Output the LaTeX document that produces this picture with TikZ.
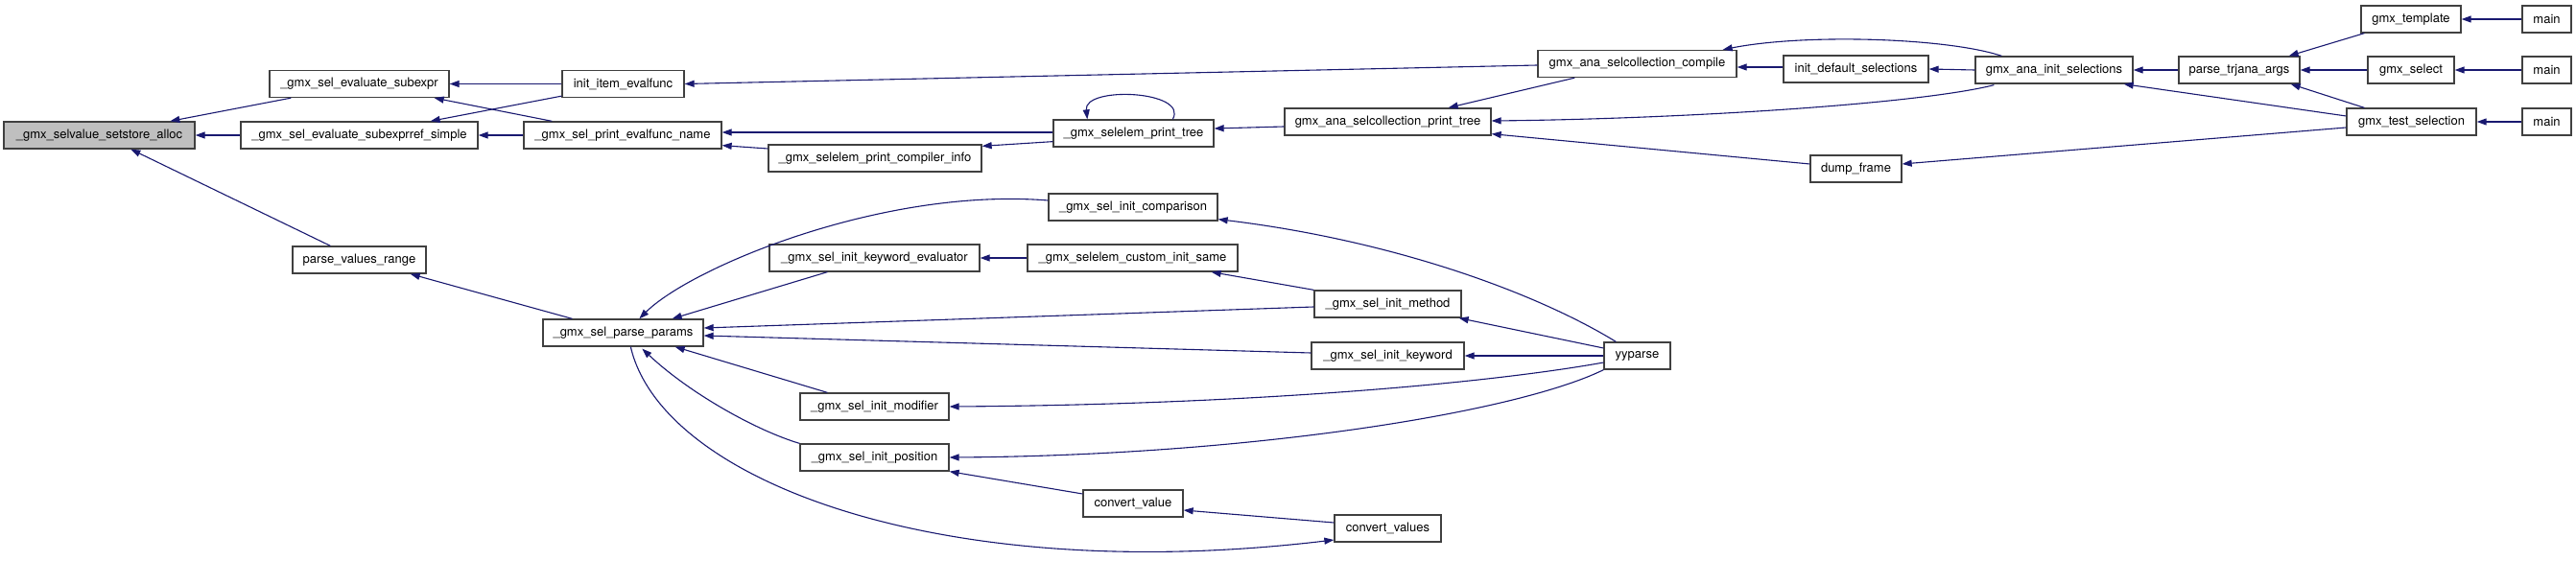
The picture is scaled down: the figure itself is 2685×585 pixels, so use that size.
\documentclass[tikz,border=0pt]{standalone}
\usepackage{fontspec}
\setmainfont{TeX Gyre Heros}
\usetikzlibrary{arrows.meta,calc}
\definecolor{edgeblue}{HTML}{191970}
\definecolor{boxline}{HTML}{404040}
\definecolor{curfill}{HTML}{BFBFBF}
\begin{document}
\begin{tikzpicture}[x=1pt,y=-1pt,
  fn/.style={draw=boxline, line width=1.3pt, rectangle, inner sep=0pt, minimum height=28pt, fill=white, font=\fontsize{13}{15}\selectfont},
  ca/.style={draw=edgeblue, line width=1.1pt, -{Triangle[length=10pt,width=7pt]}}]
\useasboundingbox (0,0) rectangle (2685,585);
% column 1
\node[fn, fill=curfill, minimum width=199pt] (alloc) at (103.5,141) {\_gmx\_selvalue\_setstore\_alloc};
% column 2
\node[fn, minimum width=187pt] (subexpr) at (374.5,87.5) {\_gmx\_sel\_evaluate\_subexpr};
\node[fn, minimum width=247pt] (subexprref) at (374.5,141) {\_gmx\_sel\_evaluate\_subexprref\_simple};
\node[fn, minimum width=139pt] (pvr) at (374.5,271) {parse\_values\_range};
% column 3
\node[fn, minimum width=127pt] (inititem) at (649.5,87.5) {init\_item\_evalfunc};
\node[fn, minimum width=206pt] (printname) at (649,141) {\_gmx\_sel\_print\_evalfunc\_name};
\node[fn, minimum width=167pt] (params) at (649.5,347) {\_gmx\_sel\_parse\_params};
% column 4
\node[fn, minimum width=222pt] (compinfo) at (912,165) {\_gmx\_selelem\_print\_compiler\_info};
\node[fn, minimum width=219pt] (kweval) at (911.5,269) {\_gmx\_sel\_init\_keyword\_evaluator};
\node[fn, minimum width=155pt] (modifier) at (911.5,424) {\_gmx\_sel\_init\_modifier};
\node[fn, minimum width=155pt] (position) at (911.5,477) {\_gmx\_sel\_init\_position};
% column 5
\node[fn, minimum width=167pt] (printtree) at (1181.5,139) {\_gmx\_selelem\_print\_tree};
\node[fn, minimum width=176pt] (comparison) at (1181,216) {\_gmx\_sel\_init\_comparison};
\node[fn, minimum width=219pt] (same) at (1180.5,269) {\_gmx\_selelem\_custom\_init\_same};
\node[fn, minimum width=104pt] (convval) at (1181,525) {convert\_value};
% column 6
\node[fn, minimum width=215pt] (scptree) at (1446.5,127) {gmx\_ana\_selcollection\_print\_tree};
\node[fn, minimum width=153pt] (method) at (1446.5,317) {\_gmx\_sel\_init\_method};
\node[fn, minimum width=159pt] (keyword) at (1446.5,371) {\_gmx\_sel\_init\_keyword};
\node[fn, minimum width=111pt] (convs) at (1446.5,551) {convert\_values};
% column 7
\node[fn, minimum width=207pt] (compile) at (1706.5,66.5) {gmx\_ana\_selcollection\_compile};
\node[fn, minimum width=69pt] (yyparse) at (1706.5,371) {yyparse};
% column 8
\node[fn, minimum width=151pt] (initdef) at (1934.5,72) {init\_default\_selections};
\node[fn, minimum width=95pt] (dump) at (1934.5,176) {dump\_frame};
% column 9
\node[fn, minimum width=164pt] (initsel) at (2141,73) {gmx\_ana\_init\_selections};
% column 10
\node[fn, minimum width=126pt] (parsetrj) at (2334,73) {parse\_trjana\_args};
% column 11
\node[fn, minimum width=104pt] (template) at (2513,20) {gmx\_template};
\node[fn, minimum width=90pt] (select) at (2513,73) {gmx\_select};
\node[fn, minimum width=135pt] (testsel) at (2513.5,127) {gmx\_test\_selection};
% column 12
\node[fn, minimum width=51pt] (mainA) at (2654.5,20) {main};
\node[fn, minimum width=51pt] (mainB) at (2654.5,73) {main};
\node[fn, minimum width=51pt] (mainC) at (2654.5,127) {main};

% edges
\draw[ca] ($(subexpr.south west)+(23,0)$) -- ($(alloc.north west)+(174,0)$);
\draw[ca] (subexprref.west) -- (alloc.east);
\draw[ca] ($(pvr.north west)+(40,0)$) -- ($(alloc.south west)+(133,0)$);
\draw[ca] (inititem.west) -- (subexpr.east);
\draw[ca] ($(printname.north west)+(30,0)$) -- ($(subexpr.south east)+(-16,0)$);
\draw[ca] ($(inititem.south west)+(0,-2)$) -- ($(subexprref.north east)+(-50,0)$);
\draw[ca] (printname.west) -- (subexprref.east);
\draw[ca] ($(compile.west)+(0,1.5)$) -- (inititem.east);
\draw[ca] ($(printtree.west)+(0,-1)$) -- ($(printname.east)+(0,-3)$);
\draw[ca] ($(compinfo.west)+(0,-10)$) -- ($(printname.south east)+(0,-4)$);
\draw[ca] ($(printtree.south west)+(0,-6)$) -- ($(compinfo.north east)+(0,2)$);
\draw[ca] ($(printtree.north west)+(125,0)$) .. controls +(17,-30) and +(-4,-35) .. ($(printtree.north west)+(36,0)$);
\draw[ca] ($(scptree.west)+(0,5)$) -- ($(printtree.east)+(0,-5)$);
\draw[ca] ($(compile.south west)+(39,0)$) -- ($(scptree.north east)+(-45,0)$);
\draw[ca] ($(initdef.west)+(0,-2)$) -- ($(compile.east)+(0,3.5)$);
\draw[ca] ($(initsel.north west)+(28,0)$) .. controls +(-57,-19) and +(85,-17) .. ($(compile.north east)+(-15,0)$);
\draw[ca] (initsel.west) -- (initdef.east);
\draw[ca] ($(initsel.south west)+(20,1)$) .. controls +(-79,20) and +(196,-2) .. ($(scptree.east)+(0,-1)$);
\draw[ca] ($(dump.west)+(0,-5)$) -- ($(scptree.south east)+(0,-2)$);
\draw[ca] (parsetrj.west) -- (initsel.east);
\draw[ca] ($(testsel.west)+(0,-6)$) -- ($(initsel.south east)+(-10,0)$);
\draw[ca] ($(testsel.west)+(0,6)$) -- ($(dump.east)+(0,-5)$);
\draw[ca] ($(template.south west)+(4,0)$) -- ($(parsetrj.north east)+(-12,0)$);
\draw[ca] (select.west) -- (parsetrj.east);
\draw[ca] ($(testsel.north west)+(19,0)$) -- ($(parsetrj.south east)+(-10,0)$);
\draw[ca] (mainA.west) -- (template.east);
\draw[ca] (mainB.west) -- (select.east);
\draw[ca] (mainC.west) -- (testsel.east);

\draw[ca] ($(params.north west)+(31,0)$) -- ($(pvr.south east)+(-17,0)$);
\draw[ca] ($(comparison.west)+(0,-7)$) .. controls +(-173,-14) and +(53,-53) .. ($(params.north west)+(101,0)$);
\draw[ca] ($(kweval.south west)+(61,0)$) -- ($(params.north east)+(-33,0)$);
\draw[ca] (same.west) -- (kweval.east);
\draw[ca] ($(method.west)+(0,3)$) -- ($(params.east)+(0,-5)$);
\draw[ca] ($(keyword.west)+(0,-3)$) -- ($(params.east)+(0,3)$);
\draw[ca] (method.north west) -- ($(same.south east)+(-28,0)$);
\draw[ca] ($(modifier.north west)+(29,0)$) -- ($(params.south east)+(-30,0)$);
\draw[ca] (position.north west) .. controls +(-44,-13) and +(50,47) .. ($(params.south west)+(104,2)$);
\draw[ca] ($(params.south west)+(92,0)$) .. controls +(32,139) and +(-411,49) .. ($(convs.west)+(0,12)$);
\draw[ca] ($(yyparse.north west)+(13,0)$) .. controls +(-85,-52) and +(181,22) .. ($(comparison.south east)+(0,-2)$);
\draw[ca] ($(yyparse.west)+(0,-8)$) -- ($(method.south east)+(-3,0)$);
\draw[ca] (yyparse.west) -- (keyword.east);
\draw[ca] ($(yyparse.west)+(0,7)$) .. controls +(-122,22) and +(311,-2) .. (modifier.east);
\draw[ca] (yyparse.south west) .. controls +(-92,45) and +(311,-2) .. (position.east);
\draw[ca] ($(convval.west)+(0,-10)$) -- (position.south east);
\draw[ca] ($(convs.west)+(0,-6)$) -- ($(convval.east)+(0,7)$);
\end{tikzpicture}
\end{document}
